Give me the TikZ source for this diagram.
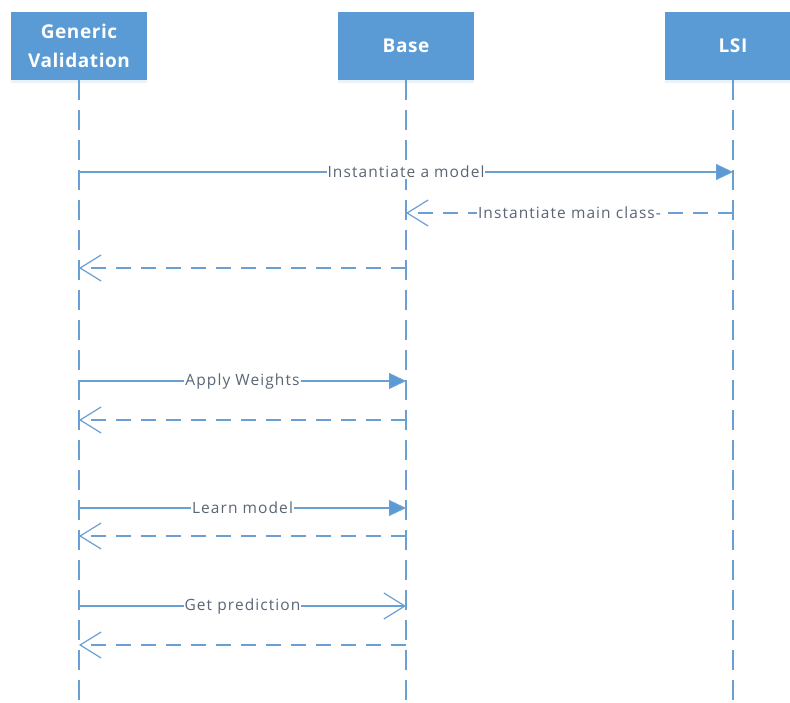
\documentclass[tikz,border=0pt]{standalone}
\usepackage{fontspec}
\setmainfont{Open Sans}
\newfontfamily\msgfont[LetterSpace=7]{Open Sans}
\newfontfamily\actorfont[LetterSpace=3]{Open Sans}
\usetikzlibrary{arrows.meta,shadows}
\definecolor{actorblue}{HTML}{5B9BD5}
\definecolor{wireblue}{HTML}{6A9FD4}
\definecolor{labelgray}{HTML}{5A6675}
\begin{document}
\begin{tikzpicture}[x=1pt,y=-1pt,
  actor/.style={fill=actorblue, minimum width=136pt, minimum height=68pt,
    text=white, font=\actorfont\bfseries\fontsize{19}{29}\selectfont, align=center,
    inner sep=0pt, drop shadow={shadow xshift=0pt, shadow yshift=-3pt, opacity=0.12, fill=actorblue}},
  lifeline/.style={draw=wireblue, line width=1.2pt, dash pattern=on 20pt off 10pt},
  callmsg/.style={draw=wireblue, line width=1.2pt,
    -{Triangle[length=17pt,width=16pt,fill=actorblue]}},
  callopen/.style={draw=wireblue, line width=1.2pt,
    -{Straight Barb[length=21pt,width=26pt,line width=1.2pt]}},
  replymsg/.style={draw=wireblue, line width=1.2pt, dash pattern=on 15pt off 10pt,
    -{Straight Barb[length=21pt,width=26pt,line width=1.2pt]}},
  msglabel/.style={fill=white, text=labelgray, font=\msgfont\fontsize{15.5}{18}\selectfont,
    inner sep=1pt}
]
\useasboundingbox (0,0) rectangle (790,703);
\clip (0,0) rectangle (790,703);

% participants
\node[actor] (gv)   at (79,46)  {Generic\\Validation};
\node[actor] (base) at (406,46) {Base};
\node[actor] (lsi)  at (733,46) {LSI};

% lifeline ends
\coordinate (gvEnd)   at (79,703);
\coordinate (baseEnd) at (406,703);
\coordinate (lsiEnd)  at (733,703);
\draw[lifeline] (gv.south)   -- (gvEnd);
\draw[lifeline] (base.south) -- (baseEnd);
\draw[lifeline] (lsi.south)  -- (lsiEnd);

% message anchors on the lifelines
\coordinate (g1) at (79,172);  \coordinate (l1) at (733,172);
\coordinate (l2) at (733,213); \coordinate (b2) at (406,213);
\coordinate (b3) at (406,268); \coordinate (g3) at (79,268);
\coordinate (g4) at (79,381);  \coordinate (b4) at (406,381);
\coordinate (b5) at (406,420); \coordinate (g5) at (79,420);
\coordinate (g6) at (79,508);  \coordinate (b6) at (406,508);
\coordinate (b7) at (406,536); \coordinate (g7) at (79,536);
\coordinate (g8) at (79,606);  \coordinate (b8) at (406,606);
\coordinate (b9) at (406,645); \coordinate (g9) at (79,645);

% messages
\draw[callmsg]  (g1) -- node[msglabel] {Instantiate a model} (l1);
\draw[replymsg] (l2) -- node[msglabel] {Instantiate main class-} (b2);
\draw[replymsg] (b3) -- (g3);
\draw[callmsg]  (g4) -- node[msglabel] {Apply Weights} (b4);
\draw[replymsg] (b5) -- (g5);
\draw[callmsg]  (g6) -- node[msglabel] {Learn model} (b6);
\draw[replymsg] (b7) -- (g7);
\draw[callopen] (g8) -- node[msglabel] {Get prediction} (b8);
\draw[replymsg] (b9) -- (g9);
\end{tikzpicture}
\end{document}
